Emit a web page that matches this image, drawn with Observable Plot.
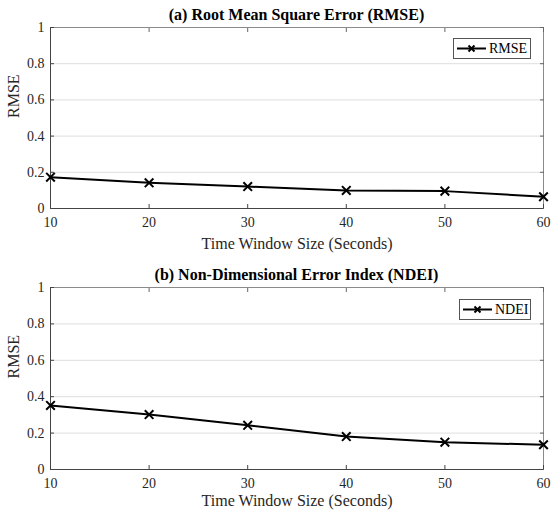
<!DOCTYPE html>
<html><head><meta charset="utf-8">
<script src="https://cdn.jsdelivr.net/npm/d3@7"></script>
<script src="https://cdn.jsdelivr.net/npm/@observablehq/plot@0.6"></script>
<style>
html,body{margin:0;padding:0;background:#fff;}
#wrap{position:relative;width:559px;height:518px;font-family:"Liberation Serif","Times New Roman",serif;color:#262626;}
.title{position:absolute;left:50px;width:493px;text-align:center;font-weight:bold;font-size:16px;line-height:18px;color:#000;white-space:nowrap;}
.panel{position:absolute;left:0;}
.legend{position:absolute;border:1px solid #555;background:#fff;display:flex;align-items:center;font-size:14px;color:#000;box-sizing:border-box;}
.legend svg{display:block;}
</style></head>
<body><div id="wrap"></div>
<script>
const windowSizes = [10, 20, 30, 40, 50, 60];
const rmseValues = [0.173, 0.142, 0.121, 0.100, 0.096, 0.065];
const ndeiValues = [0.352, 0.302, 0.243, 0.181, 0.150, 0.136];
const xTicks = [10, 20, 30, 40, 50, 60];
const yTicks = [0, 0.2, 0.4, 0.6, 0.8, 1];
const panelTitles = ["(a) Root Mean Square Error (RMSE)", "(b) Non-Dimensional Error Index (NDEI)"];
const seriesNames = ["RMSE", "NDEI"];
const xLabel = "Time Window Size (Seconds)";
const yLabel = "RMSE";

const wrap = document.getElementById("wrap");

function makePanel(values, height, marginBottom, labelDy) {
  const data = windowSizes.map((w, i) => ({w, v: values[i]}));
  return Plot.plot({
    width: 559, height, marginLeft: 50, marginRight: 16, marginTop: 3, marginBottom,
    style: {fontFamily: "Liberation Serif, Times New Roman, serif", fontSize: "14px", color: "#262626", background: "white", overflow: "visible"},
    x: {domain: [10, 60], label: null},
    y: {domain: [0, 1], label: null},
    marks: [
      Plot.gridY(yTicks, {stroke: "#dedede", strokeOpacity: 1}),
      Plot.frame({stroke: "#8a8a8a"}),
      Plot.axisX(xTicks, {tickSize: -4, tickPadding: 13, tickFormat: d => String(d), stroke: "#444", fill: "#262626", label: null}),
      Plot.axisX(xTicks, {anchor: "top", tickSize: -4, tickFormat: () => "", stroke: "#666", label: null}),
      Plot.axisY(yTicks, {tickSize: -4, tickPadding: 10, tickFormat: d => String(d), stroke: "#444", fill: "#262626", label: null}),
      Plot.axisY(yTicks, {anchor: "right", tickSize: -4, tickFormat: () => "", stroke: "#666", label: null}),
      Plot.ruleX([10], {stroke: "#444"}),
      Plot.ruleY([0], {stroke: "#444"}),
      Plot.line(data, {x: "w", y: "v", stroke: "#000", strokeWidth: 2}),
      Plot.dot(data, {x: "w", y: "v", symbol: "times", r: 4, stroke: "#000", strokeWidth: 2}),
      Plot.text([xLabel], {frameAnchor: "bottom", dy: labelDy, fontSize: 16, fill: "#262626"}),
      Plot.text([yLabel], {frameAnchor: "left", dx: -37, rotate: -90, fontSize: 16, fill: "#262626"})
    ]
  });
}

const layout = [
  {titleTop: 6, top: 24, height: 235, mb: 51, dy: 40, legend: {left: 453, top: 38, width: 78, height: 21}},
  {titleTop: 266, top: 284, height: 234, mb: 49, dy: 36, legend: {left: 459, top: 299, width: 72, height: 21}}
];
[rmseValues, ndeiValues].forEach((vals, i) => {
  const L = layout[i];
  const t = document.createElement("div");
  t.className = "title"; t.style.top = L.titleTop + "px"; t.textContent = panelTitles[i];
  wrap.appendChild(t);
  const p = document.createElement("div");
  p.className = "panel"; p.style.top = L.top + "px";
  p.appendChild(makePanel(vals, L.height, L.mb, L.dy));
  wrap.appendChild(p);
  const lg = document.createElement("div");
  lg.className = "legend";
  lg.style.left = L.legend.left + "px"; lg.style.top = L.legend.top + "px";
  lg.style.width = L.legend.width + "px"; lg.style.height = L.legend.height + "px";
  lg.innerHTML = '<svg width="35" height="17"><line x1="3" y1="8.5" x2="32" y2="8.5" stroke="#000" stroke-width="2"/>' +
    '<path d="M14.5,5.5 L20.5,11.5 M20.5,5.5 L14.5,11.5" stroke="#000" stroke-width="2"/></svg><span>' + seriesNames[i] + '</span>';
  wrap.appendChild(lg);
});
</script></body></html>
